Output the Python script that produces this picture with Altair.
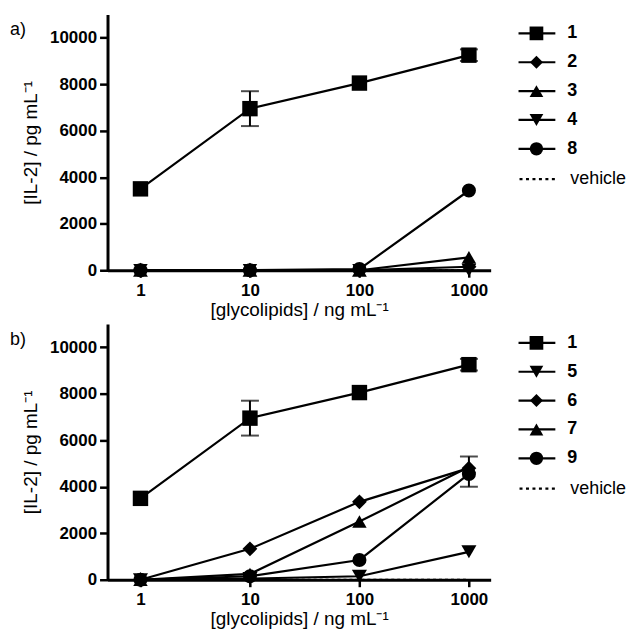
import altair as alt
import pandas as pd

conc = [1, 10, 100, 1000]

# panel a
a_series = ["1", "2", "3", "4", "8"]
a_values = {
    "1": [3500, 6950, 8050, 9250],
    "2": [0, 0, 0, 150],
    "3": [0, 0, 0, 550],
    "4": [0, 0, 0, 0],
    "8": [0, 0, 50, 3430],
}
a_shapes = ["square", "diamond", "triangle-up", "triangle-down", "circle"]
a_err_series = ["1", "1"]
a_err_conc = [10, 1000]
a_err_lo = [6200, 9000]
a_err_hi = [7700, 9500]

# panel b
b_series = ["1", "5", "6", "7", "9"]
b_values = {
    "1": [3500, 6950, 8050, 9250],
    "5": [0, 50, 150, 1200],
    "6": [0, 1330, 3350, 4800],
    "7": [0, 250, 2500, 4850],
    "9": [0, 150, 850, 4550],
}
b_shapes = ["square", "triangle-down", "diamond", "triangle-up", "circle"]
b_err_series = ["1", "1", "9"]
b_err_conc = [10, 1000, 1000]
b_err_lo = [6200, 9000, 4000]
b_err_hi = [7700, 9500, 5300]

vehicle = [0, 0, 0, 0]

shape_size = {"square": 240, "diamond": 200, "triangle-up": 200,
              "triangle-down": 200, "circle": 180}
legend_size = {"square": 190, "diamond": 170, "triangle-up": 190,
               "triangle-down": 190, "circle": 180}

FONT = "Liberation Sans"
X_TITLE = "[glycolipids] / ng mL⁻¹"
Y_TITLE = "[IL-2] / pg mL⁻¹"


def make_panel(series, values, shapes, err_series, err_conc, err_lo, err_hi, tag):
    rows = []
    for s in series:
        for c, v in zip(conc, values[s]):
            rows.append({"series": s, "conc": c, "il2": v})
    df = pd.DataFrame(rows)
    vdf = pd.DataFrame({"conc": conc, "il2": vehicle})
    edf = pd.DataFrame({"series": err_series, "conc": err_conc,
                        "lo": err_lo, "hi": err_hi})

    xs = alt.Scale(type="log", domain=[0.5, 1580], nice=False)
    ys = alt.Scale(domain=[0, 11000], nice=False)
    x = alt.X("conc:Q", scale=xs, title=X_TITLE,
              axis=alt.Axis(values=conc, format="d", tickSize=7,
                            labelPadding=5, titlePadding=2))
    y = alt.Y("il2:Q", scale=ys, title=Y_TITLE,
              axis=alt.Axis(values=[0, 2000, 4000, 6000, 8000, 10000],
                            tickSize=8, labelPadding=3, titlePadding=9,
                            format="d"))
    shape = alt.Shape("series:N", scale=alt.Scale(domain=series, range=shapes),
                      legend=None)
    size = alt.Size("series:N", scale=alt.Scale(
        domain=series, range=[shape_size[s] for s in shapes]), legend=None)

    base = alt.Chart(df)
    lines = base.mark_line(color="black", strokeWidth=2.2).encode(
        x=x, y=y, detail="series:N")
    veh = alt.Chart(vdf).mark_line(color="black", strokeWidth=2,
                                   strokeDash=[3, 3]).encode(x=x, y=y)
    pts = base.mark_point(filled=True, color="black", opacity=1).encode(
        x=x, y=y, shape=shape, size=size)
    ebase = alt.Chart(edf)
    erule = ebase.mark_rule(color="black", strokeWidth=2).encode(
        x=alt.X("conc:Q", scale=xs), y=alt.Y("lo:Q", scale=ys), y2="hi:Q")
    elo = ebase.mark_tick(color="black", orient="horizontal", size=18,
                          thickness=2).encode(
        x=alt.X("conc:Q", scale=xs), y=alt.Y("lo:Q", scale=ys))
    ehi = ebase.mark_tick(color="black", orient="horizontal", size=18,
                          thickness=2).encode(
        x=alt.X("conc:Q", scale=xs), y=alt.Y("hi:Q", scale=ys))
    lab = alt.Chart(pd.DataFrame({"t": [tag]})).mark_text(
        align="left", baseline="middle", font=FONT, fontSize=18,
        color="black").encode(text="t:N", x=alt.value(-98), y=alt.value(16))

    plot = alt.layer(veh, lines, erule, elo, ehi, pts, lab).properties(
        width=385, height=257)

    # manual legend
    leg_labels = series + ["vehicle"]
    leg_shapes = shapes + ["circle"]
    ldf = pd.DataFrame({"label": leg_labels, "idx": [0, 1, 2, 3, 4, 5.05],
                        "shape": leg_shapes,
                        "lsize": [legend_size[s] for s in leg_shapes],
                        "kind": ["s"] * 5 + ["v"]})
    ly = alt.Y("idx:Q", scale=alt.Scale(domain=[-0.655, 8.207], reverse=True,
                                        nice=False, zero=False), axis=None)
    lbase = alt.Chart(ldf)
    lrule = lbase.transform_filter("datum.kind == 's'").mark_rule(
        color="black", strokeWidth=2.2).encode(
        x=alt.value(0), x2=alt.value(37), y=ly)
    lrule_v = lbase.transform_filter("datum.kind == 'v'").mark_rule(
        color="black", strokeWidth=2.5, strokeDash=[3, 3.5]).encode(
        x=alt.value(1), x2=alt.value(38), y=ly)
    lpts = lbase.transform_filter("datum.kind == 's'").mark_point(
        filled=True, color="black", opacity=1).encode(
        x=alt.value(18), y=ly,
        shape=alt.Shape("shape:N", scale=None),
        size=alt.Size("lsize:Q", scale=None))
    ltxt = lbase.transform_filter("datum.kind == 's'").mark_text(
        align="left", baseline="middle", font=FONT, fontSize=18,
        fontWeight="bold", color="black").encode(
        x=alt.value(49), y=ly, text="label:N")
    ltxt_v = lbase.transform_filter("datum.kind == 'v'").mark_text(
        align="left", baseline="middle", font=FONT, fontSize=18,
        color="black").encode(
        x=alt.value(52), y=ly, text="label:N")
    legend = alt.layer(lrule, lrule_v, lpts, ltxt, ltxt_v).properties(
        width=80, height=257)

    return alt.hconcat(plot, legend, spacing=26).resolve_scale(
        shape="independent", size="independent")


panel_a = make_panel(a_series, a_values, a_shapes, a_err_series, a_err_conc,
                     a_err_lo, a_err_hi, "a)")
panel_b = make_panel(b_series, b_values, b_shapes, b_err_series, b_err_conc,
                     b_err_lo, b_err_hi, "b)")

chart = alt.vconcat(panel_a, panel_b, spacing=5).resolve_scale(
    shape="independent", size="independent"
).properties(
    padding={"left": 2, "top": 5, "right": 0, "bottom": 0},
    background="white",
).configure_view(stroke=None).configure_axis(
    grid=False, domainColor="black", domainWidth=3, tickColor="black",
    tickWidth=2.5, labelColor="black", titleColor="black",
    labelFont=FONT, titleFont=FONT, labelFontSize=17, labelFontWeight="bold",
    titleFontSize=19, titleFontWeight="normal",
)

chart.save("out.html", embed_options={"renderer": "svg", "actions": False})
